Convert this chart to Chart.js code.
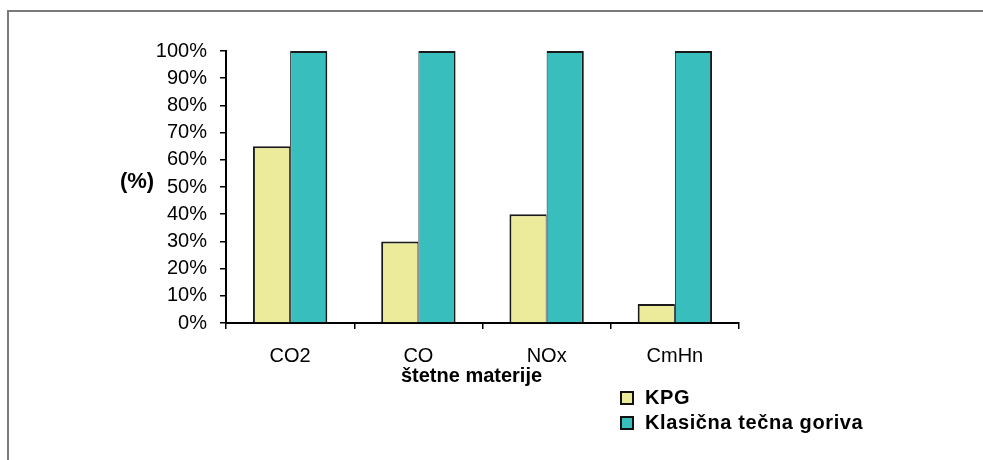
<!DOCTYPE html>
<html>
<head>
<meta charset="utf-8">
<script src="https://cdn.jsdelivr.net/npm/chart.js@4/dist/chart.umd.min.js"></script>
<style>
  html, body { margin: 0; padding: 0; background: #fff; }
  #wrap { position: relative; width: 983px; height: 460px; overflow: hidden; }
  #frame { position: absolute; left: 7px; top: 10px; right: -10px; bottom: -10px;
           border-left: 2px solid #7a7a7a; border-top: 2px solid #7a7a7a; }
  canvas { position: absolute; left: 0; top: 0; }
  #legend { position: absolute; left: 620px; top: 385px; letter-spacing: 0.6px;
            font: bold 20px "Liberation Sans", Arial, sans-serif; color: #000; }
  .item { display: flex; align-items: center; height: 25px; }
  .swatch { width: 10px; height: 10px; border: 2px solid #111; margin-right: 11px; }
</style>
</head>
<body>
<div id="wrap">
  <div id="frame"></div>
  <canvas id="c" width="983" height="460"></canvas>
  <div id="legend"></div>
</div>
<script>
// Pollutants and relative emissions (classic liquid fuels = 100%)
const categories = ['CO2', 'CO', 'NOx', 'CmHn'];
const kpgValues = [65, 30, 40, 7];
const classicValues = [100, 100, 100, 100];
const seriesNames = ['KPG', 'Klasična tečna goriva'];
const yTicks = [0, 10, 20, 30, 40, 50, 60, 70, 80, 90, 100];
const xAxisTitle = 'štetne materije';
const yAxisTitle = '(%)';

const FONT = '"Liberation Sans", Arial, sans-serif';
const colors = ['#ebeb9b', '#39bebe'];

// Horizontal axis captions drawn next to the plot area
const axisTitles = {
  id: 'axisTitles',
  afterDraw(chart) {
    const { ctx, chartArea } = chart;
    ctx.save();
    ctx.fillStyle = '#000';
    ctx.textBaseline = 'middle';
    ctx.textAlign = 'center';
    ctx.font = 'bold 22px ' + FONT;
    ctx.fillText(yAxisTitle, chartArea.left - 89, (chartArea.top + chartArea.bottom) / 2 - 5);
    ctx.font = 'bold 20px ' + FONT;
    ctx.fillText(xAxisTitle, (chartArea.left + chartArea.right) / 2 - 11, chartArea.bottom + 53);
    ctx.restore();
  }
};

const chart = new Chart(document.getElementById('c'), {
  type: 'bar',
  data: {
    labels: categories,
    datasets: [
      {
        label: seriesNames[0],
        data: kpgValues,
        backgroundColor: colors[0],
        borderColor: '#1a1a1a',
        borderWidth: { top: 2, left: 2, right: 1, bottom: 0 },
        borderSkipped: false,
        categoryPercentage: 0.58,
        barPercentage: 1
      },
      {
        label: seriesNames[1],
        data: classicValues,
        backgroundColor: colors[1],
        borderColor: '#1a1a1a',
        borderWidth: { top: 2, left: 1, right: 2, bottom: 0 },
        borderSkipped: false,
        categoryPercentage: 0.58,
        barPercentage: 1
      }
    ]
  },
  options: {
    responsive: false,
    animation: false,
    devicePixelRatio: 1,
    layout: { padding: { left: 126, right: 244, top: 51, bottom: 77 } },
    plugins: {
      legend: { display: false },
      tooltip: { enabled: false },
      title: { display: false }
    },
    scales: {
      x: {
        afterFit(scale) { scale.height = 60; },
        grid: { offset: true, drawOnChartArea: false, drawTicks: true, tickLength: 6, color: '#000', lineWidth: 1.5 },
        border: { color: '#000', width: 2 },
        ticks: { color: '#000', font: { family: FONT, size: 20 }, padding: 15 }
      },
      y: {
        min: 0,
        max: 100,
        afterFit(scale) { scale.width = 100; },
        afterBuildTicks(scale) { scale.ticks = yTicks.map(v => ({ value: v })); },
        grid: { drawOnChartArea: false, drawTicks: true, tickLength: 6, color: '#000', lineWidth: 1.5 },
        border: { color: '#000', width: 2 },
        ticks: {
          color: '#000',
          font: { family: FONT, size: 20 },
          padding: 13,
          callback: v => v + '%'
        }
      }
    }
  },
  plugins: [axisTitles]
});

// Legend built from the chart's own datasets
const legend = document.getElementById('legend');
chart.data.datasets.forEach(ds => {
  const row = document.createElement('div');
  row.className = 'item';
  const sw = document.createElement('span');
  sw.className = 'swatch';
  sw.style.background = ds.backgroundColor;
  const label = document.createElement('span');
  label.textContent = ds.label;
  row.appendChild(sw);
  row.appendChild(label);
  legend.appendChild(row);
});
</script>
</body>
</html>
